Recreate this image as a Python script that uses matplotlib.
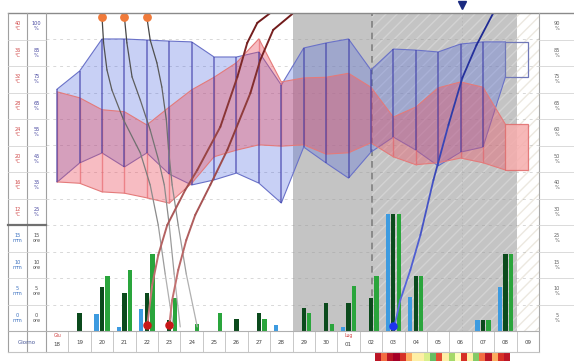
import numpy as np
import matplotlib
matplotlib.use('Agg')
import matplotlib.pyplot as plt
from matplotlib.patches import Rectangle
from matplotlib.lines import Line2D
from matplotlib.collections import LineCollection
from matplotlib.colors import to_rgb

# ---- data ----
days = ['18', '19', '20', '21', '22', '23', '24', '25', '26', '27', '28',
        '29', '30', '01', '02', '03', '04', '05', '06', '07', '08', '09']
months = {0: 'Giu', 13: 'Lug'}

temp_labels = ['40', '36', '32', '28', '24', '20', '16', '12']
hum_labels = ['100', '85', '75', '65', '55', '45', '35', '25']
mm_labels = ['15', '10', '5', '0']
ore_labels = ['15', '10', '5', '0']
right_labels = ['90', '85', '75', '65', '60', '50', '40', '30', '25', '15', '10', '5']

# temperature (degC), days 18 .. 08
t_max = [30.1, 29.2, 27.4, 27.1, 25.1, 27.8, 30.4, 32.3, 34.5, 38.1, 31.6,
         32.2, 32.3, 32.9, 30.8, 26.3, 27.8, 30.7, 31.6, 30.8, 25.2]
t_min = [16.5, 16.3, 15.0, 14.8, 14.1, 13.3, 16.3, 20.3, 21.3, 22.1, 21.9,
         22.1, 20.7, 20.9, 22.4, 20.3, 19.1, 19.4, 20.1, 19.4, 18.3]
# humidity (%)
h_max = [71.3, 78.1, 90.2, 90.2, 89.8, 89.4, 89.1, 83.4, 83.4, 85.3, 72.8,
         86.8, 88.7, 90.2, 78.5, 86.4, 86.0, 85.3, 88.3, 89.1, 89.1]
h_min = [36.2, 43.4, 47.2, 41.9, 47.2, 39.2, 35.1, 37.0, 39.6, 35.8, 28.3,
         49.4, 43.4, 37.7, 47.5, 53.2, 48.3, 42.3, 47.5, 49.4, 75.8]

# precipitation (mm / ore)
rain_blue = [0, 0, 3.2, 0.8, 4.2, 0, 0, 0, 0, 0, 1.1,
             0, 0, 0.8, 0, 22.1, 6.4, 0, 0, 2.1, 8.3, 0]
rain_dark = [0, 3.4, 8.3, 7.2, 7.2, 2.1, 0, 0, 2.3, 3.4, 0,
             4.3, 5.3, 5.3, 6.2, 22.1, 10.4, 0, 0, 2.1, 14.5, 0]
rain_green = [0, 0, 10.4, 11.5, 14.5, 6.2, 1.3, 3.4, 0, 2.3, 0,
              3.4, 1.3, 8.5, 10.4, 22.1, 10.4, 0, 0, 2.1, 14.5, 0]

# curves on the 0-100 % scale (x = day index)
gray1_x = [2.0, 2.07, 2.22, 2.44, 2.96, 3.71, 4.15, 4.51, 4.82, 5.18]
gray1_y = [98.7, 90.6, 82.1, 75.8, 66.4, 56.0, 45.9, 33.3, 17.9, 1.3]
gray2_x = [3.0, 3.11, 3.34, 3.71, 4.15, 4.52, 4.78, 5.0, 5.22, 5.49]
gray2_y = [98.7, 90.6, 79.9, 72.6, 63.2, 53.8, 45.9, 33.3, 17.9, 1.3]
gray3_x = [4.0, 4.15, 4.45, 4.67, 4.87, 4.97, 5.13, 5.40, 5.76, 6.25]
gray3_y = [98.7, 91.5, 84.3, 76.7, 66.4, 56.9, 45.9, 33.3, 17.9, 1.3]
red1_x = [4.02, 4.24, 4.51, 4.91, 5.71, 6.25, 7.28, 8.04, 8.48, 8.93, 9.51]
red1_y = [1.9, 14.5, 23.9, 33.3, 44.3, 50.6, 64.2, 79.9, 90.6, 96.9, 100]
red2_x = [5.0, 5.13, 5.40, 5.76, 6.16, 6.83, 7.59, 8.62, 9.06, 9.64, 10.49]
red2_y = [1.9, 9.7, 19.2, 28.6, 36.5, 45.9, 56.9, 74.8, 85.2, 94.7, 99.7]
blue_x = [15.05, 15.31, 15.76, 16.21, 16.79, 17.46, 18.08, 18.71, 19.46]
blue_y = [1.6, 9.7, 19.2, 30.2, 47.5, 64.8, 79.6, 89.9, 100]

sun_x = [2, 3, 4]
sun_y = [98.7, 98.7, 98.7]
red_dot_x = [4, 5]
red_dot_y = [1.9, 1.9]
blue_dot_x = [15]
blue_dot_y = [1.6]
now_x = 18.05

# comfort strip
strip = [0.05, 0.2, 0.05, 0.0, 0.1, 0.3, 0.45, 0.45, 0.6, 0.8, 0.15, 0.45,
         0.7, 0.5, 0.1, 0.45, 0.75, 0.2, 0.05, 0.3, 0.1, 0.05]

# ---- layout ----
W, H = 574, 361
fig = plt.figure(figsize=(W / 100, H / 100), dpi=100)


def rect(x0, y0, x1, y1):
    return [x0 / W, 1 - y1 / H, (x1 - x0) / W, (y1 - y0) / H]


def fline(x0, y0, x1, y1, **kw):
    fig.add_artist(Line2D([x0 / W, x1 / W], [1 - y0 / H, 1 - y1 / H],
                          transform=fig.transFigure, **kw))


def ftext(x, y, s, **kw):
    fig.text(x / W, 1 - y / H, s, ha='center', va='center', **kw)


PX0, PX1, PY0, PY1, PYM = 46, 539, 13, 331, 225
XL = (-0.5, 21.5)
n = len(t_max)
idx = np.arange(n)


def new_ax(r):
    a = fig.add_axes(r)
    a.set_xlim(*XL)
    a.patch.set_alpha(0)
    a.axis('off')
    return a


# background
ax_bg = new_ax(rect(PX0, PY0, PX1, PY1))
ax_bg.set_ylim(0, 100)
ax_bg.axvspan(10.5, 14.05, color='#c4c4c4', lw=0, zorder=0)
ax_bg.add_patch(Rectangle((14.05, 0), 20.5 - 14.05, 100, facecolor='#c4c4c4',
                          hatch='///', edgecolor='#d3d3d3', lw=0, zorder=0))
ax_bg.add_patch(Rectangle((20.5, 0), 1, 100, facecolor='white',
                          hatch='///', edgecolor='#ece8e0', lw=0, zorder=0))
for k in range(1, 12):
    ax_bg.axhline(k * 100 / 12, color='#999999', alpha=0.38, lw=0.7,
                  dashes=(3, 4), zorder=1)
ax_bg.axvline(14.05, color='#808080', lw=1.2, dashes=(4, 3), zorder=2)
ax_bg.axvline(now_x, color='#b4b4b4', lw=0.5, dashes=(2, 3), zorder=2)

# humidity band
ax_h = new_ax(rect(PX0, PY0, PX1, PYM))
ax_h.set_ylim(20, 100)
ax_h.fill_between(idx, h_min, h_max, facecolor='#4a64e0', alpha=0.3,
                  edgecolor='none')
ax_h.plot(idx, h_max, color='#6a72c8', lw=0.8)
ax_h.plot(idx, h_min, color='#6a72c8', lw=0.8)
ax_h.add_patch(Rectangle((n - 1, h_min[-1]), 1, h_max[-1] - h_min[-1],
                         fill=False, edgecolor='#7078b8', lw=0.9))

# temperature band
ax_t = new_ax(rect(PX0, PY0, PX1, PYM))
ax_t.set_ylim(10, 42)
ax_t.vlines(idx[:-1], t_min[:-1], t_max[:-1], color='#e06464', lw=1.0,
            alpha=0.6, zorder=1)
ax_t.fill_between(idx, t_min, t_max, facecolor='#ec5060', alpha=0.38,
                  edgecolor='none', zorder=2)
ax_t.plot(idx, t_max, color='#e47a7a', lw=0.8, zorder=3)
ax_t.plot(idx, t_min, color='#e47a7a', lw=0.8, zorder=3)
ax_t.add_patch(Rectangle((n - 1, t_min[-1]), 1, t_max[-1] - t_min[-1],
                         facecolor='#f6acac', alpha=0.85,
                         edgecolor='#e06a6a', lw=0.9, zorder=3))

# humidity day lines on top
ax_hv = new_ax(rect(PX0, PY0, PX1, PYM))
ax_hv.set_ylim(20, 100)
ax_hv.vlines(idx[:-1], h_min[:-1], h_max[:-1], color='#3a3aa8', lw=1.1,
             alpha=0.7)

# precipitation bars
ax_r = new_ax(rect(PX0, PYM, PX1, PY1))
ax_r.set_ylim(0, 20)
xd = np.arange(len(days))
bw = 0.19
off = 0.25
ax_r.bar(xd - off, rain_blue, bw, color='#3d9be0', clip_on=False)
ax_r.bar(xd, rain_dark, bw, color='#0b4a1c', clip_on=False)
ax_r.bar(xd + off, rain_green, bw, color='#2aa53c', clip_on=False)


# curves
def blend(c1, c2, f):
    a, b = np.array(to_rgb(c1)), np.array(to_rgb(c2))
    return tuple(a + (b - a) * f)


def grad_line(a, xs, ys, c_bot, c_top, lw):
    pts = np.column_stack([xs, ys])
    segs = np.stack([pts[:-1], pts[1:]], axis=1)
    mids = (np.array(ys[:-1]) + np.array(ys[1:])) / 200
    cols = [blend(c_bot, c_top, m) for m in mids]
    a.add_collection(LineCollection(segs, colors=cols, linewidths=lw,
                                    capstyle='round', joinstyle='round'))


ax_c = new_ax(rect(PX0, PY0, PX1, PY1))
ax_c.set_ylim(0, 100)
for gx, gy in [(gray1_x, gray1_y), (gray2_x, gray2_y), (gray3_x, gray3_y)]:
    grad_line(ax_c, gx, gy, '#bcbcbc', '#404040', 0.9)
for rx, ry in [(red1_x, red1_y), (red2_x, red2_y)]:
    grad_line(ax_c, rx, ry, '#d08080', '#6e1818', 1.4)
grad_line(ax_c, blue_x, blue_y, '#6070e8', '#1a2690', 1.3)
ax_c.scatter(sun_x, sun_y, s=28, color='#f07a3a', zorder=5, clip_on=False)
ax_c.scatter(red_dot_x, red_dot_y, s=26, color='#c81818', zorder=5)
ax_c.scatter(blue_dot_x, blue_dot_y, s=26, color='#1f33ee', zorder=5)
ax_c.plot([now_x], [102.6], marker='v', ms=6, color='#1a2a80',
          clip_on=False, zorder=6)

# day row
ax_d = new_ax(rect(PX0, PY1, PX1, 352))
ax_d.set_ylim(0, 1)
for i, d in enumerate(days):
    if i in months:
        ax_d.text(i, 0.78, months[i], ha='center', va='center', fontsize=3.3,
                  color='#d04040')
        ax_d.text(i, 0.36, d, ha='center', va='center', fontsize=4,
                  color='#444444')
    else:
        ax_d.text(i, 0.45, d, ha='center', va='center', fontsize=4,
                  color='#444444')
ax_d.vlines(np.arange(len(days)) + 0.5, 0, 1, color='#c8c8c8', lw=0.7)

# comfort strip
ax_s = fig.add_axes(rect(375, 353, 510, 361))
ax_s.imshow(np.array([strip]), aspect='auto', cmap='RdYlGn', vmin=0, vmax=1,
            interpolation='nearest')
ax_s.axis('off')

# table lines
row_h = (PY1 - PY0) / 12
fline(8, PY0, W, PY0, color='#8a8a8a', lw=1)
for xv in (8, 27, PX0):
    fline(xv, PY0, xv, 352, color='#a0a0a0', lw=0.8)
fline(PX1, PY0, PX1, 352, color='#a8a8a8', lw=0.8)
for k in range(1, 12):
    yk = PY0 + k * row_h
    fline(8, yk, PX0, yk, color='#d4d4d4', lw=0.6)
    fline(PX1, yk, W, yk, color='#d4d4d4', lw=0.6)
fline(8, PYM, PX0, PYM, color='#707070', lw=1.6)
fline(8, PY1, PX1, PY1, color='#b0b0b0', lw=0.8)
fline(8, 352, PX1, 352, color='#c4c4c4', lw=0.8)

# table labels
for k in range(8):
    yc = PY0 + (k + 0.5) * row_h
    ftext(17.5, yc, temp_labels[k] + '\n°C', fontsize=3.6, color='#d04848',
          linespacing=1.1)
    ftext(36.5, yc, hum_labels[k] + '\n%', fontsize=3.6, color='#4848a0',
          linespacing=1.1)
for k in range(4):
    yc = PYM + (k + 0.5) * row_h
    ftext(17.5, yc, mm_labels[k] + '\nmm', fontsize=3.6, color='#3a70c0',
          linespacing=1.1)
    ftext(36.5, yc, ore_labels[k] + '\nore', fontsize=3.6, color='#505050',
          linespacing=1.1)
for k in range(12):
    yc = PY0 + (k + 0.5) * row_h
    ftext(557, yc, right_labels[k] + '\n%', fontsize=3.6, color='#606060',
          linespacing=1.1)
ftext(27, 342, 'Giorno', fontsize=4, color='#4a5a9a')

fig.savefig('out.png', dpi=100)
